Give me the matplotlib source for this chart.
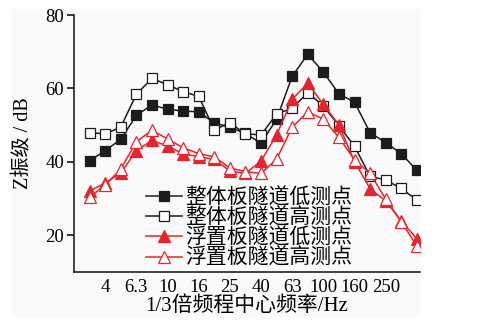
import matplotlib
matplotlib.use("Agg")
import matplotlib.pyplot as plt
from matplotlib.patches import Rectangle

# 1/3-octave band centre frequencies (Hz)
bands = ["3.15", "4", "5", "6.3", "8", "10", "12.5", "16", "20", "25", "31.5",
         "40", "50", "63", "80", "100", "125", "160", "200", "250", "315", "400"]
tick_labels = ["4", "6.3", "10", "16", "25", "40", "63", "100", "160", "250"]

# Z vibration level (dB)
solid_low = [40.2, 43.0, 46.1, 52.6, 55.5, 54.3, 53.8, 53.6, 50.6, 49.4, 47.7,
             45.0, 51.6, 63.3, 69.3, 64.4, 58.5, 56.2, 47.9, 45.2, 42.2, 37.6]
solid_high = [47.9, 47.6, 49.4, 58.4, 62.7, 61.0, 59.1, 57.8, 48.7, 50.6, 47.6,
              47.3, 53.0, 54.6, 58.8, 55.2, 49.8, 44.2, 36.0, 35.0, 32.7, 29.5]
float_low = [32.0, 34.2, 36.9, 43.0, 45.8, 44.3, 42.1, 41.4, 40.6, 37.5, 36.8,
             40.2, 47.3, 57.0, 61.4, 55.6, 50.0, 40.0, 32.6, 29.3, 23.8, 19.0]
float_high = [30.3, 33.6, 38.0, 45.4, 48.6, 46.2, 43.8, 42.2, 41.3, 38.3, 37.3,
              36.8, 40.7, 49.4, 53.6, 51.6, 46.6, 40.5, 36.8, 29.8, 23.6, 17.0]

series_names = ["整体板隧道低测点", "整体板隧道高测点", "浮置板隧道低测点", "浮置板隧道高测点"]

serif = ["Liberation Serif", "Noto Sans CJK SC"]
plt.rcParams["font.family"] = serif
plt.rcParams["mathtext.default"] = "regular"

fig = plt.figure(figsize=(4.93, 3.21), dpi=100, facecolor="white")
fig.patches.append(Rectangle((12 / 493, 3 / 321), 408 / 493, 309 / 321,
                             transform=fig.transFigure, facecolor="#fafafa",
                             edgecolor="none", zorder=-10))
ax = fig.add_axes([74 / 493, 49.3 / 321, 346 / 493, 256.7 / 321])
ax.patch.set_alpha(0)

x = list(range(len(bands)))
red = "#e8232b"
dark = "#1c1c1c"
lw = 1.1
ax.plot(x, solid_low, color=dark, lw=lw, marker="s", ms=6.6,
        mfc=dark, mec=dark, mew=0.9, label=series_names[0])
ax.plot(x, solid_high, color=dark, lw=lw, marker="s", ms=6.6,
        mfc="white", mec=dark, mew=0.9, label=series_names[1])
ax.plot(x, float_low, color=red, lw=lw, marker="^", ms=8.2,
        mfc=red, mec=red, mew=0.9, label=series_names[2])
ax.plot(x, float_high, color=red, lw=lw, marker="^", ms=8.2,
        mfc="white", mec=red, mew=0.9, label=series_names[3])

ax.set_xlim(-1, 21.2)
ax.set_ylim(10, 80)

for side in ("top", "right"):
    ax.spines[side].set_visible(False)
for side in ("left", "bottom"):
    ax.spines[side].set_linewidth(1.2)
    ax.spines[side].set_color("#222222")

label_pos = [bands.index(t) for t in tick_labels]
ax.set_xticks(label_pos)
ax.set_xticklabels(tick_labels)
ax.tick_params(axis="x", which="major", length=0, pad=5, labelsize=13.5)
ax.set_xticks([bands.index(t) for t in ["6.3", "16", "40", "100", "250"]], minor=True)
ax.tick_params(axis="x", which="minor", direction="in", length=4, width=1.1)

ax.set_yticks([20, 40, 60, 80])
ax.tick_params(axis="y", direction="out", length=5, width=1.1, pad=2, labelsize=13.5)

ax.set_ylabel("Z振级 / dB", fontsize=14.5, family=serif)
ax.yaxis.set_label_coords(-0.118, 0.5)
ax.set_xlabel("1/3倍频程中心频率/Hz", fontsize=15, family=serif)
ax.xaxis.set_label_coords(0.5, -0.095)

leg = ax.legend(loc="center left", bbox_to_anchor=(146 / 493, 92.5 / 321),
                bbox_transform=fig.transFigure, frameon=False,
                prop={"family": serif, "size": 15}, handlelength=1.75,
                handletextpad=0.15, labelspacing=0.0, borderpad=0,
                borderaxespad=0)

fig.savefig("out.png", dpi=100, facecolor="white")
